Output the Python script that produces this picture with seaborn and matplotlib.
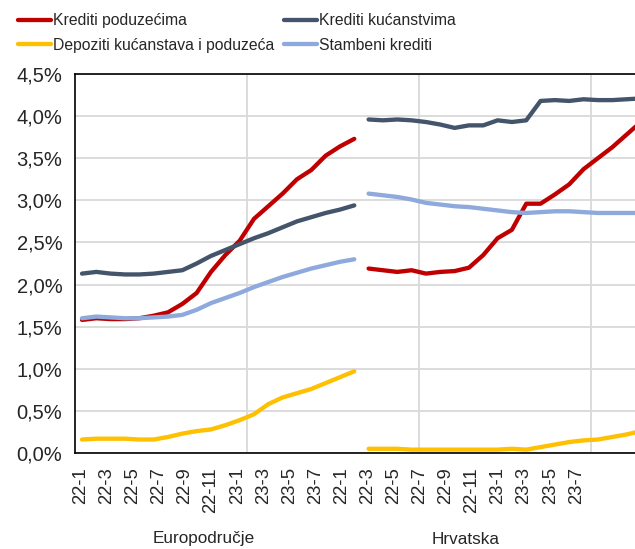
import numpy as np
import pandas as pd
import matplotlib
matplotlib.use("Agg")
import matplotlib.pyplot as plt
from matplotlib.lines import Line2D
import seaborn as sns

# ---- data ----
months = ["22-1", "22-2", "22-3", "22-4", "22-5", "22-6", "22-7", "22-8", "22-9", "22-10",
          "22-11", "22-12", "23-1", "23-2", "23-3", "23-4", "23-5", "23-6", "23-7", "23-8"]
regions = ["Europodručje", "Hrvatska"]
series_names = ["Krediti poduzećima", "Depoziti kućanstava i poduzeća",
                "Krediti kućanstvima", "Stambeni krediti"]

ea_firms = [1.58, 1.60, 1.59, 1.59, 1.60, 1.63, 1.67, 1.77, 1.90, 2.15,
            2.35, 2.52, 2.78, 2.93, 3.08, 3.25, 3.36, 3.53, 3.64, 3.73]
ea_households = [2.13, 2.15, 2.13, 2.12, 2.12, 2.13, 2.15, 2.17, 2.25, 2.34,
                 2.41, 2.48, 2.55, 2.61, 2.68, 2.75, 2.80, 2.85, 2.89, 2.94]
ea_housing = [1.60, 1.62, 1.61, 1.60, 1.60, 1.61, 1.62, 1.64, 1.70, 1.78,
              1.84, 1.90, 1.97, 2.03, 2.09, 2.14, 2.19, 2.23, 2.27, 2.30]
ea_deposits = [0.16, 0.17, 0.17, 0.17, 0.16, 0.16, 0.19, 0.23, 0.26, 0.28,
               0.33, 0.39, 0.46, 0.58, 0.66, 0.71, 0.76, 0.83, 0.90, 0.97]

hr_firms = [2.19, 2.17, 2.15, 2.17, 2.13, 2.15, 2.16, 2.20, 2.35, 2.55,
            2.65, 2.96, 2.96, 3.07, 3.19, 3.37, 3.50, 3.63, 3.78, 3.93]
hr_households = [3.96, 3.95, 3.96, 3.95, 3.93, 3.90, 3.86, 3.89, 3.89, 3.95,
                 3.93, 3.95, 4.18, 4.19, 4.18, 4.20, 4.19, 4.19, 4.20, 4.21]
hr_housing = [3.08, 3.06, 3.04, 3.01, 2.97, 2.95, 2.93, 2.92, 2.90, 2.88,
              2.86, 2.85, 2.86, 2.87, 2.87, 2.86, 2.85, 2.85, 2.85, 2.85]
hr_deposits = [0.05, 0.05, 0.05, 0.04, 0.04, 0.04, 0.04, 0.04, 0.04, 0.04,
               0.05, 0.04, 0.07, 0.10, 0.13, 0.15, 0.16, 0.19, 0.22, 0.26]

y_ticks = [0.0, 0.5, 1.0, 1.5, 2.0, 2.5, 3.0, 3.5, 4.0, 4.5]

colors = {"Krediti poduzećima": "#C00000",
          "Depoziti kućanstava i poduzeća": "#FFC000",
          "Krediti kućanstvima": "#44546A",
          "Stambeni krediti": "#8EA9DB"}

# ---- long table ----
rows = []
n = len(months)
region_data = {
    "Europodručje": {"Krediti poduzećima": ea_firms, "Krediti kućanstvima": ea_households,
                     "Depoziti kućanstava i poduzeća": ea_deposits, "Stambeni krediti": ea_housing},
    "Hrvatska": {"Krediti poduzećima": hr_firms, "Krediti kućanstvima": hr_households,
                 "Depoziti kućanstava i poduzeća": hr_deposits, "Stambeni krediti": hr_housing},
}
for r_i, reg in enumerate(regions):
    for s in series_names:
        for m_i, v in enumerate(region_data[reg][s]):
            rows.append({"x": r_i * n + m_i, "value": v, "series": s, "region": reg})
df = pd.DataFrame(rows)

# ---- style ----
sns.set_style("white")
plt.rcParams["font.family"] = ["Liberation Sans", "DejaVu Sans"]

W, H, DPI = 635, 549, 100
fig = plt.figure(figsize=(W / DPI, H / DPI), dpi=DPI)

px_per_step = 14.33
x0_px = 82.0
left_px = x0_px - 0.5 * px_per_step
top_px, bottom_px = 74.0, 453.0
ax = fig.add_axes([left_px / W, (H - bottom_px) / H, (W - left_px) / W, (bottom_px - top_px) / H])

draw_order = ["Krediti poduzećima", "Krediti kućanstvima",
              "Depoziti kućanstava i poduzeća", "Stambeni krediti"]
sns.lineplot(data=df, x="x", y="value", hue="series", units="region", estimator=None,
             hue_order=draw_order, palette=colors, linewidth=3.1, ax=ax, legend=False,
             sort=True)
for ln in ax.get_lines():
    ln.set_solid_capstyle("round")
    ln.set_solid_joinstyle("round")

ax.set_xlim(-0.5, (W - x0_px) / px_per_step)
ax.set_ylim(0, 4.5)
ax.set_yticks(y_ticks)
ax.set_yticklabels([f"{t:.1f}".replace(".", ",") + "%" for t in y_ticks], fontsize=14.5)

# category labels (every second month) on a slightly narrower label scale
lab_step_px = 13.04
lab0_px = 80.7
tick_pos, tick_lab = [], []
for r_i in range(len(regions)):
    for m_i in range(0, n, 2):
        k = r_i * n + m_i
        tick_pos.append((lab0_px + lab_step_px * k - x0_px) / px_per_step)
        tick_lab.append(months[m_i])
ax.set_xticks(tick_pos)
ax.set_xticklabels(tick_lab, rotation=90, fontsize=13.3, va="top", ha="center")
ax.set_xticks([11.5, 23.5, 35.5], minor=True)

ax.tick_params(axis="both", which="both", length=0)
ax.tick_params(axis="x", pad=10)
ax.tick_params(axis="y", pad=9)
ax.grid(False)
ax.yaxis.grid(True, color="#d9d9d9", linewidth=1.3)
ax.xaxis.grid(True, which="minor", color="#d9d9d9", linewidth=1.3)
ax.set_axisbelow(True)
for side in ["left", "top", "bottom"]:
    ax.spines[side].set_color("black")
    ax.spines[side].set_linewidth(1.2)
ax.spines["right"].set_visible(False)
ax.set_xlabel("")
ax.set_ylabel("")

# group labels
fig.text(204 / W, 1 - 539 / H, regions[0], ha="center", va="center", fontsize=12.3)
fig.text(465.5 / W, 1 - 539 / H, regions[1], ha="center", va="center", fontsize=12.3)

# legend
handles = [Line2D([0], [0], color=colors[s], linewidth=3.1) for s in series_names]
fig.legend(handles, series_names, ncol=2, loc="upper left", bbox_to_anchor=(18 / W, 1 - 13 / H),
           frameon=False, fontsize=11.3, handlelength=2.1, handletextpad=0.12,
           columnspacing=0.65, labelspacing=0.62, borderaxespad=0, borderpad=0)

fig.savefig("out.png", dpi=DPI)
